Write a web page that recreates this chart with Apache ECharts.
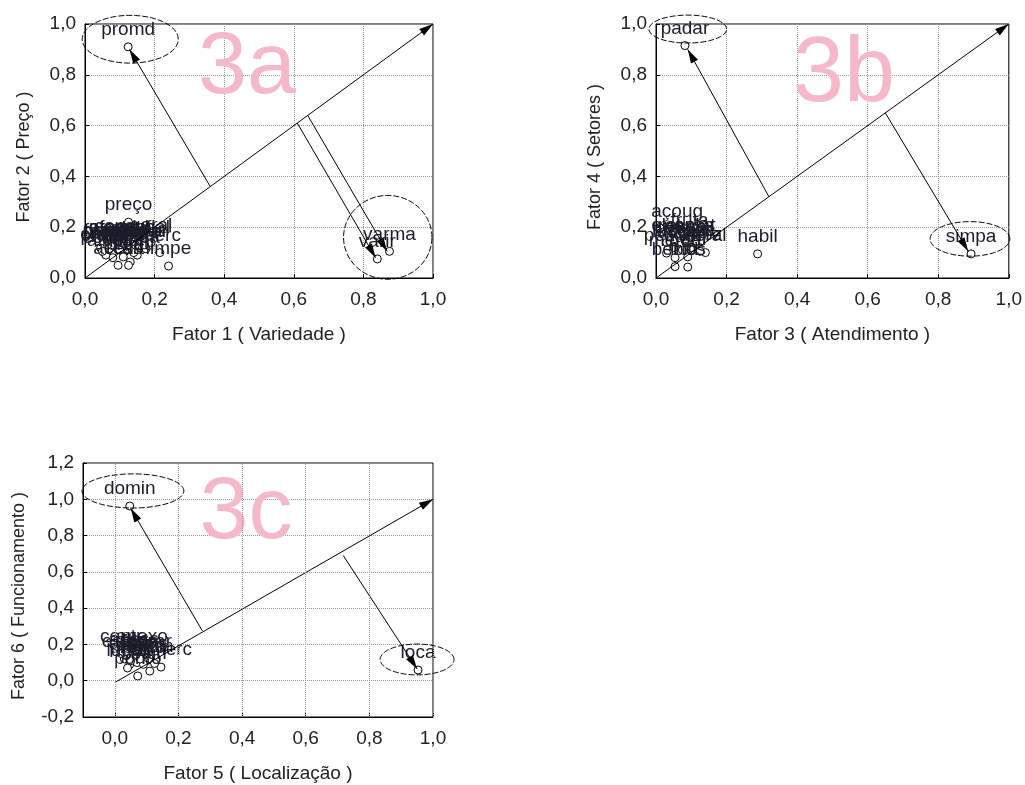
<!DOCTYPE html>
<html><head><meta charset="utf-8">
<script src="https://cdn.jsdelivr.net/npm/echarts@6/dist/echarts.min.js"></script>
<style>html,body{margin:0;padding:0;background:#fff}#c{width:1025px;height:785px}</style>
</head><body><div id="c"></div>
<script>
// ---------- DATA ----------
const tickValsX = [0, 0.2, 0.4, 0.6, 0.8, 1.0];

// Panel 3a: Fator 1 (Variedade) x Fator 2 (Preço)
const labelsA = ['promd','varma','varir','preço','consu','prazo','promo','estac','quali','marca','geral','merc','limpe','segur','confi','atend','filas','horár','organ','ambie','acess','entre','produ','cart','limpa','estoq','ofert','pagam','troca','embal','caixa'];
const xA = [0.124,0.875,0.84,0.125,0.10,0.055,0.07,0.09,0.115,0.135,0.19,0.215,0.24,0.16,0.145,0.08,0.045,0.175,0.12,0.08,0.095,0.11,0.13,0.125,0.15,0.06,0.065,0.10,0.14,0.17,0.05];
const yA = [0.91,0.105,0.075,0.22,0.135,0.10,0.115,0.12,0.105,0.115,0.14,0.10,0.047,0.12,0.13,0.13,0.118,0.115,0.125,0.08,0.05,0.083,0.063,0.05,0.09,0.09,0.13,0.11,0.10,0.13,0.105];
const arrowsA = [[0,0,1,1],[0.36,0.36,0.128,0.90],[0.61,0.61,0.835,0.08],[0.64,0.64,0.868,0.105]];
const ellipsesA = [[0.13,0.94,0.138,0.094],[0.87,0.16,0.127,0.165]];

// Panel 3b: Fator 3 (Atendimento) x Fator 4 (Setores)
const labelsB = ['padar','simpa','habil','açoug','fruta','geral','frios','bebid','merce','horti','peixe','latic','conge','elet','enlat','doces','cerea','biscs','massa','limpz'];
const xB = [0.082,0.893,0.288,0.06,0.095,0.14,0.09,0.054,0.054,0.09,0.03,0.12,0.07,0.03,0.11,0.075,0.10,0.05,0.085,0.125];
const yB = [0.915,0.095,0.095,0.195,0.16,0.10,0.043,0.045,0.08,0.083,0.098,0.12,0.13,0.14,0.14,0.11,0.12,0.12,0.14,0.105];
const arrowsB = [[0,0,1,1],[0.32,0.32,0.09,0.90],[0.65,0.65,0.885,0.105]];
const ellipsesB = [[0.09,0.98,0.11,0.055],[0.89,0.154,0.113,0.068]];

// Panel 3c: Fator 5 (Localização) x Fator 6 (Funcionamento)
const labelsC = ['domin','loca','anexo','comerc','proxi','estac','acess','trans','segur','horar','lugar','ponto','bairr','centr','perto','vizin','abert','feria'];
const xC = [0.047,0.953,0.085,0.145,0.047,0.03,0.06,0.10,0.07,0.11,0.04,0.072,0.11,0.02,0.09,0.125,0.05,0.08];
const yC = [0.963,0.059,0.147,0.075,0.09,0.12,0.13,0.11,0.10,0.12,0.07,0.026,0.053,0.15,0.09,0.095,0.11,0.12];
const arrowsC = [[0,-0.01,1,1.0],[0.275,0.275,0.05,0.95],[0.718,0.69,0.95,0.065]];
const ellipsesC = [[0.057,1.046,0.16,0.094],[0.95,0.117,0.116,0.085]];

// ---------- BUILD ----------
const FONT = 'Liberation Sans, Arial, sans-serif';
const TXT = '#222';
const FS = 19;
const fmt = v => (Math.round(v * 10) / 10).toFixed(1).replace('.', ',');
const zip = (xs, ys, ls) => xs.map((x, i) => [x, ys[i], ls[i]]);
// arrowhead with its tip at the centre of a 32x32 box, so the tip sits on the end point
const ARROW = 'path://M16,16 L20,30 L12,30 Z M0,0 L0,0 M32,32 L32,32 M0,32 L0,32 M32,0 L32,0';

function xAxis(gi, name, opts) {
  return Object.assign({
    type: 'value', gridIndex: gi, min: 0, max: 1, interval: 0.2,
    name: name, nameLocation: 'middle', nameGap: 47,
    nameTextStyle: { fontSize: FS, color: TXT, fontFamily: FONT },
    axisLine: { show: true, onZero: false, lineStyle: { color: '#000', width: 1 } },
    axisTick: { show: true, inside: true, length: 4, lineStyle: { color: '#000' } },
    axisLabel: { fontSize: FS, color: TXT, margin: 12, formatter: fmt, showMinLabel: true, showMaxLabel: true, fontFamily: FONT },
    splitLine: { show: true, lineStyle: { type: 'dotted', color: '#9a9a9a', width: 1 } }
  }, opts || {});
}
function yAxis(gi, name, gap, opts) {
  return Object.assign({
    type: 'value', gridIndex: gi, min: 0, max: 1, interval: 0.2,
    name: name, nameLocation: 'middle', nameGap: gap, nameRotate: 90,
    nameTextStyle: { fontSize: 18, color: TXT, fontFamily: FONT, padding: [0, 12, 0, 0] },
    axisLine: { show: true, onZero: false, lineStyle: { color: '#000', width: 1 } },
    axisTick: { show: true, inside: true, length: 4, lineStyle: { color: '#000' } },
    axisLabel: { fontSize: FS, color: TXT, margin: 9, formatter: fmt, showMinLabel: true, showMaxLabel: true, fontFamily: FONT },
    splitLine: { show: true, lineStyle: { type: 'dotted', color: '#9a9a9a', width: 1 } }
  }, opts || {});
}

function scatter(i, data, extra) {
  return Object.assign({
    type: 'scatter', xAxisIndex: i, yAxisIndex: i, data: data,
    symbol: 'circle', symbolSize: 8, z: 3, silent: true,
    itemStyle: { color: '#fff', borderColor: '#000', borderWidth: 1, opacity: 1 },
    label: { show: true, position: 'top', distance: 3, formatter: p => p.data[2],
      fontSize: FS, color: '#1c1c2a', fontFamily: FONT }
  }, extra || {});
}
function arrows(i, arr) {
  return {
    type: 'lines', coordinateSystem: 'cartesian2d', xAxisIndex: i, yAxisIndex: i,
    data: arr.map(a => ({ coords: [[a[0], a[1]], [a[2], a[3]]] })),
    symbol: ['none', ARROW], symbolSize: 32, z: 4, silent: true, clip: false,
    lineStyle: { color: '#000', width: 1, opacity: 1, curveness: 0 },
    itemStyle: { color: '#000' }
  };
}
function ellipses(i, arr) {
  return {
    type: 'custom', xAxisIndex: i, yAxisIndex: i, data: arr, clip: false, silent: true, z: 5,
    renderItem: (params, api) => {
      const cx = api.value(0), cy = api.value(1), rx = api.value(2), ry = api.value(3);
      const pts = [];
      for (let k = 0; k < 90; k++) {
        const t = k / 90 * Math.PI * 2;
        pts.push(api.coord([cx + rx * Math.cos(t), cy + ry * Math.sin(t)]));
      }
      return { type: 'polygon', shape: { points: pts },
        style: { fill: 'none', stroke: '#000', lineWidth: 1, lineDash: [6, 2] } };
    }
  };
}

const option = {
  backgroundColor: '#fff',
  animation: false,
  textStyle: { fontFamily: FONT },
  grid: [
    { left: 85, top: 24, width: 348, height: 254, show: true, borderColor: '#000', borderWidth: 1 },
    { left: 656, top: 24, width: 354, height: 254, show: true, borderColor: '#000', borderWidth: 1 },
    { left: 83, top: 463, width: 350, height: 254, show: true, borderColor: '#000', borderWidth: 1 }
  ],
  xAxis: [
    xAxis(0, 'Fator 1 ( Variedade )'),
    xAxis(1, 'Fator 3 ( Atendimento )'),
    xAxis(2, 'Fator 5 ( Localização )', {
      min: -0.1, max: 1.0, interval: null,
      axisLabel: { fontSize: FS, color: TXT, margin: 12, formatter: fmt, customValues: tickValsX, fontFamily: FONT },
      axisTick: { show: true, inside: true, length: 4, customValues: tickValsX, lineStyle: { color: '#000' } },
      splitLine: { show: false }
    })
  ],
  yAxis: [
    yAxis(0, 'Fator 2 ( Preço )', 52),
    yAxis(1, 'Fator 4 ( Setores )', 52),
    yAxis(2, 'Fator 6 ( Funcionamento )', 55, { min: -0.2, max: 1.2, interval: 0.2 })
  ],
  graphic: [
    { type: 'text', x: 247, y: 69, z: 1, silent: true, style: { text: '3a', fontSize: 88, fontFamily: FONT, fill: '#f5b8c8', align: 'center', verticalAlign: 'middle' } },
    { type: 'text', x: 844, y: 76, z: 1, silent: true, style: { text: '3b', fontSize: 92, fontFamily: FONT, fill: '#f5b8c8', align: 'center', verticalAlign: 'middle' } },
    { type: 'text', x: 246, y: 514, z: 1, silent: true, style: { text: '3c', fontSize: 88, fontFamily: FONT, fill: '#f5b8c8', align: 'center', verticalAlign: 'middle' } }
  ],
  series: [
    scatter(0, zip(xA, yA, labelsA)),
    arrows(0, arrowsA),
    ellipses(0, ellipsesA),
    scatter(1, zip(xB, yB, labelsB)),
    arrows(1, arrowsB),
    ellipses(1, ellipsesB),
    scatter(2, zip(xC, yC, labelsC), {
      markLine: { silent: true, symbol: 'none', label: { show: false },
        lineStyle: { type: 'dotted', color: '#9a9a9a', width: 1 },
        data: tickValsX.map(v => ({ xAxis: v })) }
    }),
    arrows(2, arrowsC),
    ellipses(2, ellipsesC)
  ]
};

const chart = echarts.init(document.getElementById('c'), null, { renderer: 'canvas' });
chart.setOption(option);
</script>
</body></html>
